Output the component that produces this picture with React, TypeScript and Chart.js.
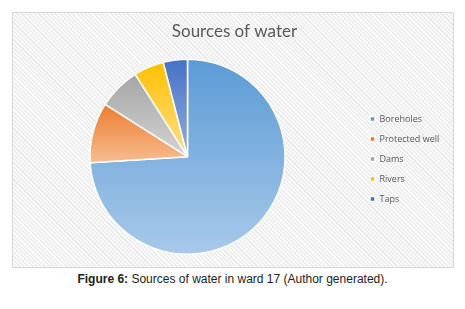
import React, { useEffect, useRef } from "react";
import { Chart, registerables } from "chart.js";

Chart.register(...registerables);

const categories = ["Boreholes", "Protected well", "Dams", "Rivers", "Taps"];
const values = [74, 10, 7, 5, 4];
const baseColors = ["#5B9BD5", "#ED7D31", "#A5A5A5", "#FFC000", "#4472C4"];
const lightColors = ["#A8C9EA", "#F7BD90", "#D4D4D4", "#FFE08C", "#94AEE0"];
const titleText = "Sources of water";

const sliceGradient = {
  id: "sliceGradient",
  beforeDatasetDraw(chart: any, args: any) {
    const meta = chart.getDatasetMeta(args.index);
    const ctx = chart.ctx;
    meta.data.forEach((arc: any, i: number) => {
      const { x, y, startAngle, endAngle, outerRadius } = arc.getProps(
        ["x", "y", "startAngle", "endAngle", "outerRadius"],
        true
      );
      let minY = y;
      let maxY = y;
      const n = 64;
      for (let k = 0; k <= n; k++) {
        const a = startAngle + ((endAngle - startAngle) * k) / n;
        const py = y + Math.sin(a) * outerRadius;
        minY = Math.min(minY, py);
        maxY = Math.max(maxY, py);
      }
      const g = ctx.createLinearGradient(0, minY, 0, maxY);
      g.addColorStop(0, baseColors[i]);
      g.addColorStop(1, lightColors[i]);
      arc.options = Object.assign({}, arc.options, { backgroundColor: g });
    });
  },
};

const legendPlacement = {
  id: "legendPlacement",
  afterInit(chart: any) {
    const lg = chart.legend;
    if (!lg) return;
    const orig = lg.fit.bind(lg);
    lg.fit = function () {
      orig();
      this.width = 94;
    };
  },
  afterLayout(chart: any) {
    const lg = chart.legend;
    if (!lg) return;
    lg.top += 25;
    lg.bottom += 25;
  },
};

function PieChart() {
  const ref = useRef<HTMLCanvasElement | null>(null);
  useEffect(() => {
    if (!ref.current) return;
    const chart = new Chart(ref.current, {
      type: "pie",
      data: {
        labels: categories,
        datasets: [
          {
            data: values,
            backgroundColor: baseColors,
            borderColor: "#ffffff",
            borderWidth: 1.5,
          },
        ],
      },
      options: {
        animation: false,
        responsive: false,
        maintainAspectRatio: false,
        layout: { padding: { left: 3, right: 0, top: 0, bottom: 12 } },
        plugins: {
          title: {
            display: true,
            text: titleText,
            color: "#595959",
            font: { family: "Lato", size: 17, weight: "normal" },
            padding: { top: 8, bottom: 17 },
          },
          legend: {
            position: "right",
            labels: {
              boxWidth: 5,
              boxHeight: 5,
              padding: 11,
              color: "#595959",
              font: { family: "Open Sans", size: 9 },
            },
          },
          tooltip: { enabled: false },
        },
      },
      plugins: [sliceGradient, legendPlacement],
    });
    return () => chart.destroy();
  }, []);
  return <canvas ref={ref} width={440} height={254} style={{ display: "block" }} />;
}

export default function App() {
  return (
    <div
      style={{
        position: "fixed",
        left: 0,
        top: 0,
        width: 465,
        height: 309,
        background: "#ffffff",
      }}
    >
      <div
        style={{
          position: "absolute",
          left: 12,
          top: 12,
          width: 440,
          height: 254,
          border: "1px solid #d9d9d9",
          background:
            "repeating-linear-gradient(45deg, #fbfbfb 0px, #fbfbfb 1.5px, #ececec 1.5px, #ececec 3px)",
        }}
      >
        <PieChart />
      </div>
      <div
        style={{
          position: "absolute",
          left: 0,
          width: 465,
          top: 272,
          textAlign: "center",
          fontFamily: "'Liberation Sans', Arial, sans-serif",
          fontSize: 12,
          color: "#222",
        }}
      >
        <b>Figure 6:</b> Sources of water in ward 17 (Author generated).
      </div>
    </div>
  );
}
